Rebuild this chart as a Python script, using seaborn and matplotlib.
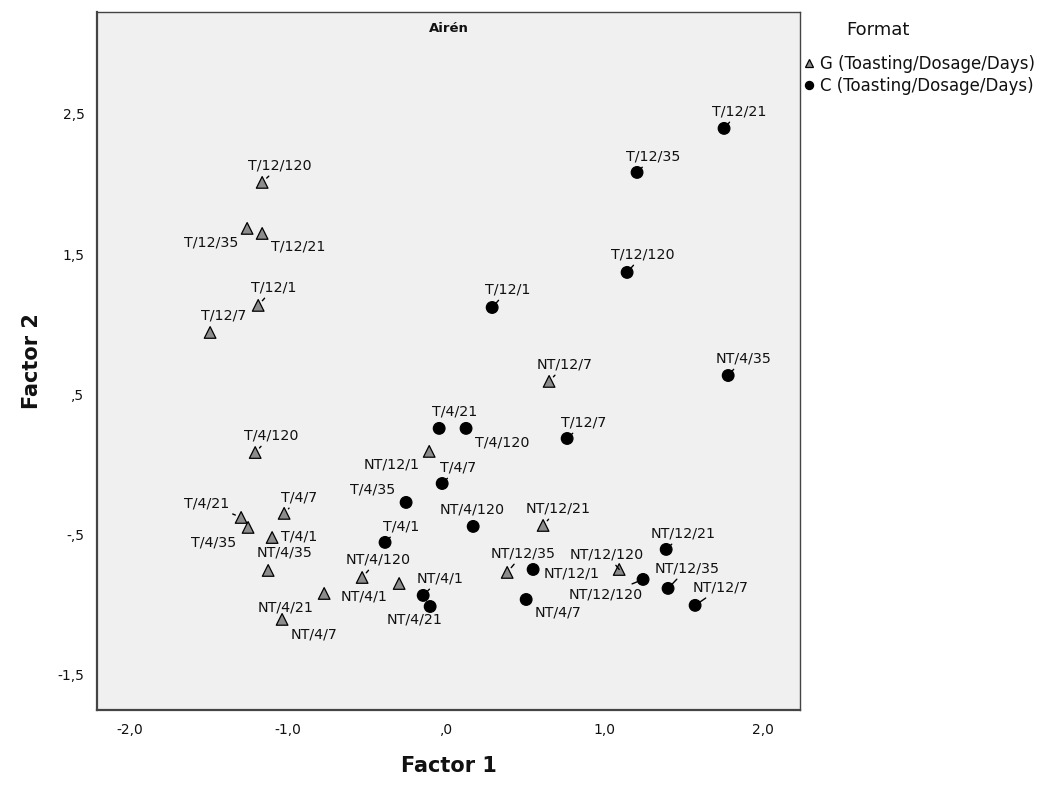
import numpy as np
import pandas as pd
import matplotlib
matplotlib.use("Agg")
import matplotlib.pyplot as plt
import seaborn as sns

# ---------------- data ----------------
labels = ["T/12/120", "T/12/35", "T/12/21", "T/12/1", "T/12/7",
          "T/4/120", "T/4/21", "T/4/35", "T/4/7", "T/4/1",
          "NT/4/35", "NT/4/1", "NT/4/21", "NT/4/120", "NT/4/7",
          "NT/12/1", "NT/12/7", "NT/12/21", "NT/12/35", "NT/12/120"]

g_factor1 = [-1.163, -1.258, -1.163, -1.188, -1.492,
             -1.207, -1.296, -1.252, -1.024, -1.100,
             -1.125, -0.771, -1.037, -0.531, -0.297,
             -0.107, 0.651, 0.613, 0.386, 1.094]
g_factor2 = [2.012, 1.684, 1.648, 1.135, 0.942,
             0.086, -0.377, -0.448, -0.348, -0.520,
             -0.755, -0.919, -1.104, -0.805, -0.848,
             0.094, 0.593, -0.434, -0.769, -0.748]

c_factor1 = [1.144, 1.207, 1.757, 0.291, 0.765,
             0.126, -0.044, -0.253, -0.025, -0.386,
             1.783, -0.145, -0.101, 0.171, 0.506,
             0.550, 1.574, 1.391, 1.403, 1.245]
c_factor2 = [1.370, 2.083, 2.397, 1.120, 0.186,
             0.258, 0.258, -0.270, -0.135, -0.555,
             0.635, -0.933, -1.012, -0.441, -0.962,
             -0.748, -1.004, -0.605, -0.883, -0.819]

formats = ["G (Toasting/Dosage/Days)", "C (Toasting/Dosage/Days)"]
x_ticks = [-2.0, -1.0, 0.0, 1.0, 2.0]
x_ticklabels = ["-2,0", "-1,0", ",0", "1,0", "2,0"]
y_ticks = [-1.5, -0.5, 0.5, 1.5, 2.5]
y_ticklabels = ["-1,5", "-,5", ",5", "1,5", "2,5"]

df = pd.DataFrame({
    "Factor 1": g_factor1 + c_factor1,
    "Factor 2": g_factor2 + c_factor2,
    "Format": [formats[0]] * len(labels) + [formats[1]] * len(labels),
    "label": labels + labels,
})

# ---------------- label layout (pixel offsets: dx, dy-down, leader?) ----------------
g_off = {"T/12/120": (18, -17, 1), "T/12/35": (-36, 14, 0), "T/12/21": (36, 13, 0),
         "T/12/1": (16, -18, 1), "T/12/7": (14, -17, 0), "T/4/120": (16, -17, 1),
         "T/4/21": (-34, -14, 1), "T/4/35": (-34, 15, 0), "T/4/7": (15, -16, 1),
         "T/4/1": (27, -1, 0), "NT/4/35": (16, -18, 0), "NT/4/1": (40, 3, 0),
         "NT/4/21": (4, -12, 0), "NT/4/120": (16, -18, 1), "NT/4/7": (-85, 51, 0),
         "NT/12/1": (-38, 13, 0), "NT/12/7": (16, -17, 1), "NT/12/21": (15, -17, 1),
         "NT/12/35": (16, -19, 1), "NT/12/120": (-12, -15, 1)}
c_off = {"T/12/120": (16, -18, 1), "T/12/35": (16, -16, 1), "T/12/21": (15, -17, 1),
         "T/12/1": (16, -18, 1), "T/12/7": (17, -16, 1), "T/4/120": (36, 14, 0),
         "T/4/21": (16, -17, 0), "T/4/35": (-33, -13, 0), "T/4/7": (16, -16, 1),
         "T/4/1": (16, -16, 1), "NT/4/35": (15, -17, 1), "NT/4/1": (17, -17, 1),
         "NT/4/21": (-16, 13, 1), "NT/4/120": (-1, -17, 0), "NT/4/7": (32, 13, 0),
         "NT/12/1": (39, 4, 0), "NT/12/7": (26, -18, 1), "NT/12/21": (17, -16, 1),
         "NT/12/35": (19, -20, 1), "NT/12/120": (-37, 15, 1)}

# ---------------- plot ----------------
sns.set_style("white")
plt.rcParams["font.family"] = ["DejaVu Sans"]

fig = plt.figure(figsize=(10.51, 7.85), dpi=100)
ax = fig.add_axes([97 / 1051, 1 - 710 / 785, (800 - 97) / 1051, (710 - 12) / 785])
ax.set_facecolor("#f0f0f0")

sns.scatterplot(data=df, x="Factor 1", y="Factor 2", hue="Format", style="Format",
                hue_order=formats, style_order=formats,
                palette={formats[0]: "#8c8c8c", formats[1]: "#000000"},
                markers={formats[0]: "^", formats[1]: "o"},
                s=70, edgecolor="#000000", linewidth=0.9,
                ax=ax, legend=True, zorder=3)

for xs, ys, offs in ((g_factor1, g_factor2, g_off), (c_factor1, c_factor2, c_off)):
    for lab, xv, yv in zip(labels, xs, ys):
        dx, dy, lead = offs[lab]
        kw = {}
        if lead:
            kw["arrowprops"] = dict(arrowstyle="-", color="#000000", lw=1.0,
                                    shrinkA=0.5, shrinkB=4.5)
        ax.annotate(lab, xy=(xv, yv), xytext=(dx, -dy), textcoords="offset pixels",
                    ha="center", va="center", fontsize=10.3, color="#111111",
                    zorder=4, **kw)

ax.set_xlim(-2.207, 2.237)
ax.set_ylim(-1.75, 3.227)
ax.set_xticks(x_ticks)
ax.set_xticklabels(x_ticklabels, fontsize=10, color="#111111")
ax.set_yticks(y_ticks)
ax.set_yticklabels(y_ticklabels, fontsize=10, color="#111111")
ax.tick_params(axis="both", direction="out", length=5, width=1.3, color="#444444", pad=4)

for side in ("left", "bottom"):
    ax.spines[side].set_color("#444444")
    ax.spines[side].set_linewidth(1.6)
for side in ("top", "right"):
    ax.spines[side].set_color("#444444")
    ax.spines[side].set_linewidth(1.0)

ax.set_xlabel("Factor 1", fontsize=15, fontweight="bold", labelpad=14, color="#111111")
ax.set_ylabel("Factor 2", fontsize=15, fontweight="bold", color="#111111")
ax.yaxis.set_label_coords(-0.078, 0.5)
ax.text(0.5, 0.977, "Airén", transform=ax.transAxes, ha="center", va="center",
        fontsize=9.5, fontweight="bold", color="#111111")

leg = ax.legend(loc="upper left", bbox_to_anchor=(0.763, 1 - 55 / 785),
                bbox_transform=fig.transFigure, frameon=False, fontsize=12,
                handletextpad=0.3, borderaxespad=0, borderpad=0,
                labelspacing=0.22, markerscale=0.7, handlelength=0.8)
for t in leg.get_texts():
    t.set_color("#111111")
fig.text(878 / 1051, 1 - 30 / 785, "Format", ha="center", va="center",
         fontsize=13, color="#111111")

fig.savefig("out.png", dpi=100)
